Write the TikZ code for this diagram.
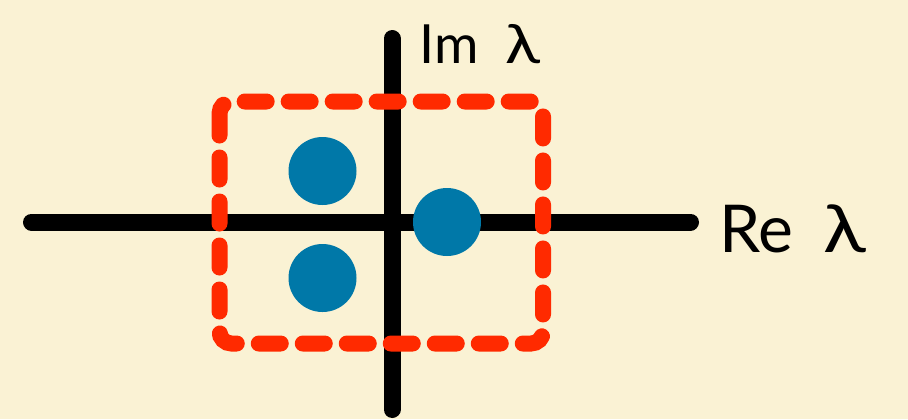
\documentclass[tikz,border=0pt]{standalone}
\usepackage{fontspec}
\setmainfont{Lato}
\usepackage{xcolor}
\usepackage{tikz}
\usetikzlibrary{positioning}

\definecolor{paper}{HTML}{FAF2D4}
\definecolor{dotblue}{HTML}{0078A8}
\definecolor{boxred}{HTML}{FF2A00}
\newcommand{\widelam}{\scalebox{1.2}[1]{λ}}

\begin{document}
\begin{tikzpicture}[x=0.5pt, y=-0.5pt,
    axis/.style={line width=8.5pt, line cap=round, black},
    dot/.style={circle, fill=dotblue, minimum size=34pt, inner sep=0pt},
    label/.style={anchor=base west, inner sep=0pt},
    region/.style={boxred, line width=8pt, line cap=round, rounded corners=6pt,
                   dash pattern=on 11pt off 11pt}]
% Background
\fill[paper] (0,0) rectangle (908,419);
\useasboundingbox (0,0) rectangle (908,419);

% Axes
\coordinate (reL) at (31.5,222);
\coordinate (reR) at (690.5,222);
\coordinate (imB) at (392,409.5);
\coordinate (imT) at (392,38.5);
\draw[axis] (reL) -- (reR);
\draw[axis] (imB) -- (imT);
\node[label, font=\fontsize{27}{30}\selectfont] (imlabel) at (419,63) {Im\hspace{0.5em}\widelam};
\node[label, font=\fontsize{33}{36}\selectfont] (relabel) at (719,252) {Re\hspace{0.45em}\widelam};

% Region
\draw[region] (219.5,101.5) rectangle (543,343.5);

% Eigenvalues
\node[dot] (up) at (322.5,171) {};
\node[dot] (down) at (322.5,278) {};
\node[dot] (right) at (447,222) {};
\end{tikzpicture}
\end{document}
